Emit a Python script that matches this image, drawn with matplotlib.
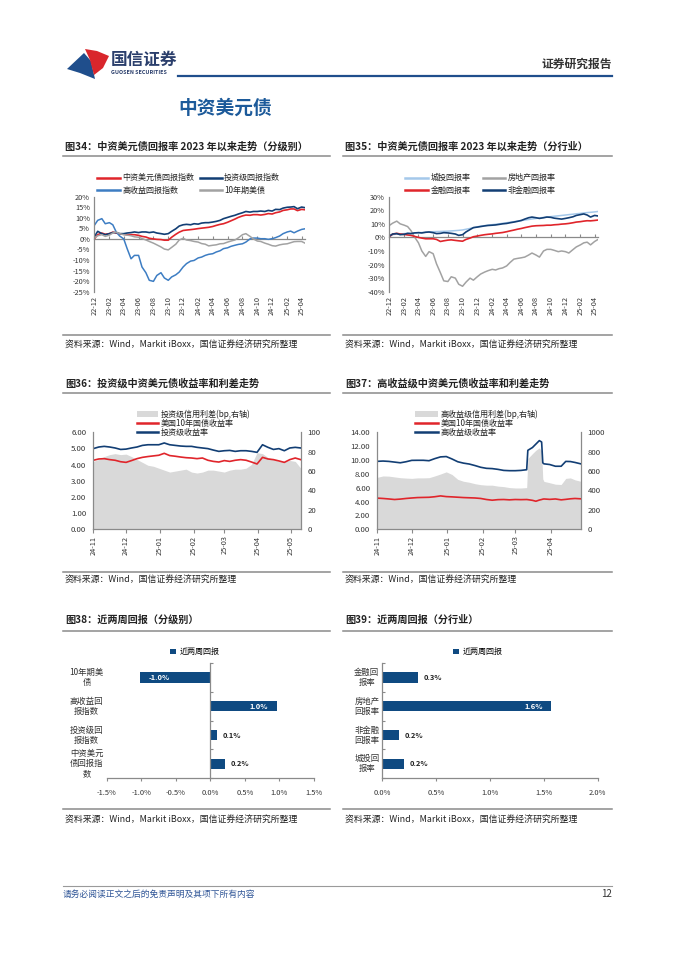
import matplotlib
matplotlib.use('Agg')
import matplotlib.pyplot as plt
import matplotlib.transforms as mtransforms
import matplotlib.dates as mdates
from matplotlib.patches import Polygon, Rectangle
from matplotlib.lines import Line2D
import numpy as np
import pandas as pd

plt.rcParams['font.family'] = ['Noto Sans CJK SC', 'DejaVu Sans']
plt.rcParams['axes.unicode_minus'] = False

# ---------------- data ----------------
# Fig 34 (semi-monthly from 2022-12-01), %
cn_index34 = [0, 2, 2.8, 2.2, 2.5, 3.2, 2.8, 2.4, 2.2, 2, 2, 2, 1.7, 1.2, 0.9, 0.3, 0, -0.2, -0.3, -0.6,
              -0.6, 0.8, 2.2, 3.2, 4, 4.2, 4.4, 4.6, 4.9, 5.1, 5.3, 5.5, 5.9, 6.4, 6.9, 7.2, 7.9, 8.6, 9.4, 10.2,
              10.9, 11.3, 11.2, 11.5, 11.5, 11.3, 11.6, 12, 11.8, 12.4, 12.8, 13.5, 13.8, 14.2, 14.2, 13.4, 14, 13.8]
ig_index34 = [1.0, 3.6, 2.5, 2, 2.5, 3, 3, 2.5, 2.5, 2.8, 3, 3.3, 3, 3.3, 3.3, 3, 3.3, 2.8, 2.5, 2.2,
              2.5, 3.6, 4.8, 6.1, 6.7, 6.9, 6.7, 7.2, 7, 7.5, 7.7, 7.7, 8, 8.3, 8.8, 9.6, 10.2, 10.7, 11.2, 11.8,
              12.4, 13, 12.7, 13, 13, 13.2, 13, 13.5, 13.2, 14, 13.9, 14.6, 15, 15.1, 15.3, 14.3, 15.1, 14.8]
hy_index34 = [6.4, 8.8, 9.6, 7.2, 7.7, 6.7, 3.3, 1.4, 0, -4.6, -9.4, -7.8, -7.8, -13.3, -16, -19.6, -20.1, -17.3, -16, -18.5,
              -19.6, -18, -17, -15.7, -13.3, -11.7, -10.5, -10.2, -9, -8.6, -7.8, -7.3, -7, -6.2, -5.6, -4.6, -4.2, -3.5, -3, -2.6,
              -2.3, -1.5, 0, 0.4, 0.4, 0.1, 0.1, -0.2, 0.1, 0.6, 1.4, 2.5, 3.3, 3.7, 2.9, 3.7, 4.5, 4.8]
ust10_34 = [0.5, 1.5, 2, 1.2, 1.8, 2.8, 3.3, 2.5, 2, 1.8, 1.5, 1, 0.8, 0.2, -0.5, -1.2, -2, -2.8, -3.8, -4.8,
            -5.2, -4, -2.5, -0.5, 0.3, -0.5, -0.8, -1.2, -1.5, -2.2, -2.5, -3.3, -3, -2.8, -2.3, -2.2, -1.5, -1, -0.5, 0.5,
            2, 2.5, 1.2, 0, -1, -1.2, -2, -2.5, -3.2, -3.4, -2.8, -2.5, -2.3, -1.8, -1.3, -1.2, -1.2, -2]
labels34 = ['中资美元债回报指数', '投资级回报指数', '高收益回报指数', '10年期美债']

# Fig 35 (semi-monthly from 2022-12-01), %
lgfv35 = [0.5, 2, 2.5, 2.5, 2.8, 3, 3, 3.3, 3.5, 3.6, 3.8, 4, 4.2, 4.3, 4.4, 4.5, 4.6, 4.8, 5, 5.2,
          5.5, 6, 6.6, 7.2, 7.8, 8.3, 8.7, 9.1, 9.4, 9.7, 10, 10.4, 10.8, 11.2, 11.6, 12, 12.4, 12.8, 13.2, 13.6,
          14, 14.4, 14.7, 15, 15.3, 15.6, 15.9, 16.2, 16.5, 16.8, 17.1, 17.4, 17.7, 18, 18.3, 18.5, 18.8, 19.1]
prop35 = [8.8, 10.5, 12, 10, 9, 8, 5, 0.5, -4, -10, -14, -10.5, -12, -19.5, -26, -32, -32.5, -29, -30, -34.5,
          -36, -33, -30, -31.5, -29, -27, -25.5, -24.5, -23.5, -24, -23, -22.5, -21, -18.5, -16, -15.5, -15, -14.5, -13, -11.5,
          -13, -14.5, -10, -8.8, -8.8, -9.5, -10.5, -10, -10.5, -11.5, -9, -7, -5.5, -4, -3.5, -5.5, -3, -1.5]
fin35 = [0.5, 2.5, 3, 2.5, 2.2, 1.8, 1.5, 0.8, 0, -0.5, -1, -1, -1, -1.5, -3, -2.5, -2, -1.8, -2.2, -2.5,
         -2.8, -1.5, -0.5, 0.5, 1, 1.5, 2, 2.3, 2.6, 3, 3.3, 3.6, 4.2, 4.8, 5.4, 6, 6.6, 7.2, 7.8, 8.3,
         8.6, 8.7, 8.8, 9, 9, 9.3, 9.5, 9.8, 10, 10.3, 10.8, 11.3, 11.6, 12, 12.3, 12.2, 12.5, 12.8]
nonfin35 = [1, 2.5, 2.8, 2, 2.3, 3, 2.8, 3.3, 3.5, 3.3, 3.8, 4, 3.5, 2.8, 3, 3.5, 3.3, 3, 2.5, 1.5,
            2, 4, 5.8, 7.2, 7.6, 8, 8.5, 8.8, 9, 9.2, 9.6, 10, 10.3, 10.8, 11.3, 11.8, 12.5, 13.5, 14.5, 15,
            14.5, 14, 14.5, 15, 14.8, 14.2, 13.8, 13.5, 14, 14.5, 15.2, 16.2, 16.8, 17.3, 16.5, 15, 16.2, 15.8]
labels35 = ['城投回报率', '房地产回报率', '金融回报率', '非金融回报率']

# Fig 36 (every 5 days from 2024-11-01)
ig_yield36 = [4.99, 5.09, 5.13, 5.09, 5.03, 4.94, 4.96, 5.03, 5.09, 5.19, 5.23, 5.23, 5.23, 5.34, 5.23, 5.19, 5.15, 5.13, 5.13, 5.07,
              5.03, 4.99, 4.90, 4.82, 4.86, 4.88, 4.82, 4.86, 4.86, 4.82, 4.76, 5.23, 5.07, 4.94, 4.99, 4.86, 5.03, 5.07, 5.03]
ust36 = [4.27, 4.35, 4.37, 4.31, 4.27, 4.18, 4.14, 4.25, 4.37, 4.45, 4.50, 4.54, 4.58, 4.70, 4.56, 4.52, 4.47, 4.43, 4.41, 4.37,
         4.41, 4.27, 4.20, 4.16, 4.25, 4.20, 4.27, 4.31, 4.27, 4.16, 4.04, 4.45, 4.35, 4.31, 4.23, 4.14, 4.31, 4.41, 4.31]
ig_spread36 = [70, 72, 75, 77, 78, 77, 77.5, 75, 72, 69, 66, 65, 63, 61, 59, 60, 61, 62, 59, 58,
               59, 61, 61, 60, 59, 61, 62, 62, 63, 67, 79, 78, 74, 72, 70, 70, 71, 70, 63]
labels36 = ['投资级信用利差(bp,右轴)', '美国10年国债收益率', '投资级收益率']

# Fig 37 (day offsets from 2024-11-01)
days37 = [0, 5, 10, 15, 20, 25, 30, 35, 40, 45, 50, 55, 60, 65, 70, 75, 80, 85, 90, 95, 100, 105, 110, 115, 120, 125, 130,
          131, 135, 138, 141, 143, 144, 145, 150, 155, 160, 164, 168, 172, 177]
hy_yield37 = [9.81, 9.85, 9.8, 9.7, 9.6, 9.75, 9.95, 9.96, 9.96, 9.9, 10.2, 10.45, 10.5, 10.15, 9.75, 9.55, 9.42, 9.2, 8.95, 8.8,
              8.76, 8.65, 8.5, 8.46, 8.46, 8.5, 8.6, 11.4, 11.8, 12.3, 12.8, 12.6, 9.6, 9.45, 9.35, 9.1, 9.1, 9.8, 9.78, 9.65, 9.45]
hy_spread37 = [536, 550, 548, 540, 532, 528, 525, 530, 530, 532, 550, 570, 592, 565, 515, 495, 485, 470, 460, 455,
               455, 445, 440, 430, 426, 426, 430, 730, 780, 815, 840, 805, 520, 494, 480, 465, 462, 525, 530, 510, 495]
ust37 = [4.5, 4.45, 4.38, 4.3, 4.36, 4.45, 4.52, 4.58, 4.6, 4.62, 4.7, 4.82, 4.72, 4.68, 4.63, 4.58, 4.55, 4.52, 4.45, 4.3,
         4.2, 4.28, 4.3, 4.25, 4.3, 4.28, 4.3, 4.28, 4.18, 4.05, 4.22, 4.3, 4.35, 4.38, 4.32, 4.38, 4.25, 4.32, 4.4, 4.45, 4.4]
labels37 = ['高收益级信用利差(bp,右轴)', '美国10年国债收益率', '高收益级收益率']

# Fig 38 / 39 bars (%)
cats38 = ['10年期美\n债', '高收益回\n报指数', '投资级回\n报指数', '中资美元\n债回报指\n数']
vals38 = [-1.02, 0.96, 0.10, 0.21]
cats39 = ['金融回\n报率', '房地产\n回报率', '非金融\n回报率', '城投回\n报率']
vals39 = [0.335, 1.567, 0.152, 0.205]
bar_label = '近两周回报'

# ---------------- style ----------------
RED = '#E0252B'
NAVY = '#123E74'
BLUE = '#3D7DC3'
GRAY = '#A2A2A2'
LBLUE = '#A4C8EA'
FILL = '#D9D9D9'
BAR = '#0F4A81'
AXC = '#8A8A8A'
TXT = '#333333'

W, H = 677, 957
fig = plt.figure(figsize=(W / 100, H / 100), dpi=100)


def fx(x):
    return x / W


def fy(y):
    return 1 - y / H


def rect(x0, y0, x1, y1):
    return [x0 / W, 1 - y1 / H, (x1 - x0) / W, (y1 - y0) / H]


def hline(x0, x1, y, color=AXC, lw=1.0):
    fig.add_artist(Line2D([fx(x0), fx(x1)], [fy(y), fy(y)], color=color, lw=lw))


# ---------------- header ----------------
fig.add_artist(Polygon([[fx(67), fy(69)], [fx(84), fy(53)], [fx(91), fy(61)], [fx(95), fy(79)], [fx(80), fy(73)]],
                       closed=True, facecolor='#1F4E8C', edgecolor='none', transform=fig.transFigure))
fig.add_artist(Polygon([[fx(85), fy(49)], [fx(97), fy(51)], [fx(109), fy(56)], [fx(103), fy(68)], [fx(94), fy(75)], [fx(90), fy(60)]],
                       closed=True, facecolor='#D9262C', edgecolor='none', transform=fig.transFigure))
fig.text(fx(111), fy(60), '国信证券', fontsize=12, fontweight='bold', color='#2B3F6C', va='center', ha='left')
fig.text(fx(111), fy(73), 'GUOSEN SECURITIES', fontsize=3.9, fontweight='bold', color='#2B3F6C', va='center', ha='left')
fig.text(fx(612), fy(64), '证券研究报告', fontsize=8.5, fontweight='bold', color='#333333', va='center', ha='right')
hline(178, 612, 76, color='#1F4E8C', lw=1.6)
fig.text(fx(178), fy(108), '中资美元债', fontsize=13.5, fontweight='bold', color='#1C5A9A', va='center', ha='left')

# footer
hline(63, 612, 886, color='#9A9A9A', lw=0.8)
fig.text(fx(63), fy(894), '请务必阅读正文之后的免责声明及其项下所有内容', fontsize=6.3, color='#2F5597',
         va='center', ha='left', style='italic')
fig.text(fx(612), fy(894), '12', fontsize=7, color='#333333', va='center', ha='right')


# ---------------- section frames ----------------
def section(x0, x1, ytitle, yline, ysep, ysrc, title, source):
    fig.text(fx(x0 + 2), fy(ytitle), title, fontsize=7.3, fontweight='bold', color='#222222', va='center', ha='left')
    hline(x0, x1, yline, lw=1.1)
    hline(x0, x1, ysep, lw=1.1)
    fig.text(fx(x0 + 2), fy(ysrc), source, fontsize=6.4, color='#222222', va='center', ha='left')


SRC1 = '资料来源：Wind，Markit iBoxx，国信证券经济研究所整理'
SRC2 = '资料来源：Wind，国信证券经济研究所整理'
section(63, 330, 146.5, 155.5, 334.5, 345.7, '图34：中资美元债回报率 2023 年以来走势（分级别）', SRC1)
section(343, 612, 146.5, 155.5, 334.5, 345.7, '图35：中资美元债回报率 2023 年以来走势（分行业）', SRC1)
section(63, 330, 383.3, 392.7, 571.7, 580.7, '图36：投资级中资美元债收益率和利差走势', SRC2)
section(343, 612, 383.3, 392.7, 571.7, 580.7, '图37：高收益级中资美元债收益率和利差走势', SRC2)
section(63, 330, 620, 630.7, 809.3, 820, '图38：近两周回报（分级别）', SRC1)
section(343, 612, 620, 630.7, 809.3, 820, '图39：近两周回报（分行业）', SRC1)


def legend_line(x0, x1, y, text, color, lw=1.8, fs=5.8):
    fig.add_artist(Line2D([fx(x0), fx(x1)], [fy(y), fy(y)], color=color, lw=lw))
    fig.text(fx(x1 + 2.5), fy(y), text, fontsize=fs, color='#222222', va='center', ha='left')


def legend_patch(x0, x1, y, text, color, fs=5.8):
    fig.add_artist(Rectangle((fx(x0), fy(y + 2.8)), fx(x1) - fx(x0), fy(y - 2.8) - fy(y + 2.8),
                             facecolor=color, edgecolor='none', transform=fig.transFigure))
    fig.text(fx(x1 + 2.5), fy(y), text, fontsize=fs, color='#222222', va='center', ha='left')


# ---------------- return line charts (34, 35) ----------------
def return_chart(box, series, colors, lws, ylim, ystep, start, tick_end):
    ax = fig.add_axes(rect(*box))
    n = len(series[0])
    dates = pd.date_range(start, periods=n, freq='SMS')
    for s, c, lw in zip(series, colors, lws):
        ax.plot(dates[:len(s)], s, color=c, lw=lw, solid_joinstyle='round')
    ax.set_xlim(dates[0], dates[-1])
    ax.set_ylim(*ylim)
    yt = np.arange(ylim[0], ylim[1] + 0.1, ystep)
    ax.set_yticks(yt)
    ax.set_yticklabels([f'{int(v)}%' for v in yt], fontsize=5.3, color=TXT)
    ax.tick_params(axis='y', length=0, pad=3)
    for sp in ['top', 'right']:
        ax.spines[sp].set_visible(False)
    ax.spines['left'].set_color(AXC)
    ax.spines['left'].set_linewidth(0.9)
    ax.spines['bottom'].set_position(('data', 0))
    ax.spines['bottom'].set_color(AXC)
    ax.spines['bottom'].set_linewidth(0.9)
    ax.spines['bottom'].set_zorder(0.5)
    xt = pd.date_range(start, tick_end, freq='2MS')
    ax.set_xticks(xt)
    ax.set_xticklabels([])
    ax.tick_params(axis='x', direction='in', length=2.5, color=AXC, width=0.8)
    trans = mtransforms.blended_transform_factory(ax.transData, ax.transAxes)
    for t in xt:
        ax.text(mdates.date2num(t), -0.05, t.strftime('%y-%m'), transform=trans, rotation=90,
                ha='center', va='top', fontsize=5.3, color=TXT)
    ax.patch.set_visible(False)
    return ax


return_chart((94.3, 196.7, 305, 291.7), [cn_index34, ig_index34, hy_index34, ust10_34],
             [RED, NAVY, BLUE, GRAY], [1.2, 1.2, 1.1, 1.1], (-25, 20), 5, '2022-12-01', '2025-04-01')
legend_line(96.7, 120, 177.7, labels34[0], RED)
legend_line(200, 221.7, 177.7, labels34[1], NAVY)
legend_line(96.7, 120, 190, labels34[2], BLUE)
legend_line(200, 221.7, 190, labels34[3], GRAY)

return_chart((389.3, 196.7, 598, 291.7), [lgfv35, prop35, fin35, nonfin35],
             [LBLUE, GRAY, RED, NAVY], [1.1, 1.1, 1.2, 1.2], (-40, 30), 10, '2022-12-01', '2025-04-01')
legend_line(405, 428.3, 177.7, labels35[0], LBLUE)
legend_line(483.3, 505, 177.7, labels35[1], GRAY)
legend_line(405, 428.3, 190, labels35[2], RED)
legend_line(483.3, 505, 190, labels35[3], NAVY)


# ---------------- yield / spread charts (36, 37) ----------------
def yield_chart(box, dates, spread, ust, yld, lmax, lstep, rmax, rstep, tick_end, xend):
    ax = fig.add_axes(rect(*box))
    ax2 = ax.twinx()
    ax2.fill_between(dates, spread, 0, color=FILL, lw=0)
    ax2.set_ylim(0, rmax)
    ax.set_zorder(ax2.get_zorder() + 1)
    ax.patch.set_visible(False)
    ax.plot(dates, ust, color=RED, lw=1.2)
    ax.plot(dates, yld, color=NAVY, lw=1.2)
    ax.set_ylim(0, lmax)
    ax.set_xlim(dates[0], xend)
    lt = np.arange(0, lmax + 0.01, lstep)
    ax.set_yticks(lt)
    ax.set_yticklabels([f'{v:.2f}' for v in lt], fontsize=5.6, color=TXT)
    rt = np.arange(0, rmax + 0.01, rstep)
    ax2.set_yticks(rt)
    ax2.set_yticklabels([f'{int(v)}' for v in rt], fontsize=5.6, color=TXT)
    ax.tick_params(axis='y', length=0, pad=5)
    ax2.tick_params(axis='y', length=0, pad=5)
    xt = pd.date_range(dates[0], tick_end, freq='MS')
    ax.set_xticks(xt)
    ax.set_xticklabels([t.strftime('%y-%m') for t in xt], rotation=90, fontsize=5.3, color=TXT)
    ax.tick_params(axis='x', direction='out', length=3, color=AXC, width=0.8, pad=1.5)
    for a in (ax, ax2):
        a.spines['top'].set_visible(False)
    ax.spines['right'].set_visible(False)
    ax2.spines['left'].set_visible(False)
    ax2.spines['bottom'].set_visible(False)
    for sp in (ax.spines['left'], ax.spines['bottom'], ax2.spines['right']):
        sp.set_color(AXC)
        sp.set_linewidth(0.9)
    return ax


dates36 = pd.date_range('2024-11-01', periods=len(ig_yield36), freq='5D')
yield_chart((93.3, 432.3, 300.7, 529.3), dates36, ig_spread36, ust36, ig_yield36, 6, 1, 100, 20,
            '2025-05-01', dates36[-1])
legend_patch(136.7, 158.3, 414, labels36[0], FILL)
legend_line(136.7, 158.3, 423, labels36[1], RED)
legend_line(136.7, 158.3, 432, labels36[2], NAVY)

dates37 = pd.Timestamp('2024-11-01') + pd.to_timedelta(days37, unit='D')
yield_chart((377.3, 432.3, 580.7, 529.3), dates37, hy_spread37, ust37, hy_yield37, 14, 2, 1000, 200,
            '2025-04-01', dates37[-1])
legend_patch(415, 438.3, 414, labels37[0], FILL)
legend_line(415, 438.3, 423, labels37[1], RED)
legend_line(415, 438.3, 432, labels37[2], NAVY)


# ---------------- bar charts (38, 39) ----------------
def bar_chart(box, cats, vals, xlim, xstep, label_dx, legend_xy):
    ax = fig.add_axes(rect(*box))
    y = np.arange(len(cats))
    bars = ax.barh(y, vals, height=0.36, color=BAR, label=bar_label)
    ax.set_ylim(len(cats) - 0.5, -0.5)
    ax.set_xlim(*xlim)
    xt = np.arange(xlim[0], xlim[1] + 1e-9, xstep)
    ax.set_xticks(xt)
    ax.set_xticklabels([f'{v:.1f}%' for v in xt], fontsize=5.4, color=TXT)
    ax.tick_params(axis='x', direction='out', length=2.5, color=AXC, width=0.8, pad=5)
    ax.spines['left'].set_position(('data', 0))
    ax.set_yticks(y)
    ax.set_yticklabels([])
    ax.tick_params(axis='y', which='major', length=0)
    ax.set_yticks(np.arange(-0.5, len(cats)), minor=True)
    ax.tick_params(axis='y', which='minor', direction='in', length=2.5, color=AXC, width=0.8)
    for sp in ['top', 'right']:
        ax.spines[sp].set_visible(False)
    for sp in ['left', 'bottom']:
        ax.spines[sp].set_color(AXC)
        ax.spines[sp].set_linewidth(0.9)
    trans = mtransforms.blended_transform_factory(ax.transAxes, ax.transData)
    for i, c in enumerate(cats):
        ax.text(label_dx, i, c, transform=trans, ha='center', va='center', fontsize=6,
                color=TXT, linespacing=1.15, multialignment='center')
    for i, v in enumerate(vals):
        s = 1 if v >= 0 else -1
        if abs(v) >= 0.5:
            ax.annotate(f'{v:.1f}%', (v, i), xytext=(-6 * s, 0), textcoords='offset points',
                        ha='right' if s > 0 else 'left', va='center', color='white', fontsize=5.4, fontweight='bold')
        else:
            ax.annotate(f'{v:.1f}%', (v, i), xytext=(4 * s, 0), textcoords='offset points',
                        ha='left' if s > 0 else 'right', va='center', color='#222222', fontsize=5.4, fontweight='bold')
    ax.legend(handles=[bars], loc='center', bbox_to_anchor=(fx(legend_xy[0]), fy(legend_xy[1])),
              bbox_transform=fig.transFigure, frameon=False, fontsize=5.8, handlelength=0.7,
              handleheight=0.7, handletextpad=0.5)
    return ax


bar_chart((106.7, 663, 314, 778.3), cats38, vals38, (-1.5, 1.5), 0.5, -0.0965, (195, 651.7))
bar_chart((382.3, 663, 597.7, 778.3), cats39, vals39, (0, 2.0), 0.5, -0.072, (478, 651.7))

fig.savefig('out.png', dpi=100)
